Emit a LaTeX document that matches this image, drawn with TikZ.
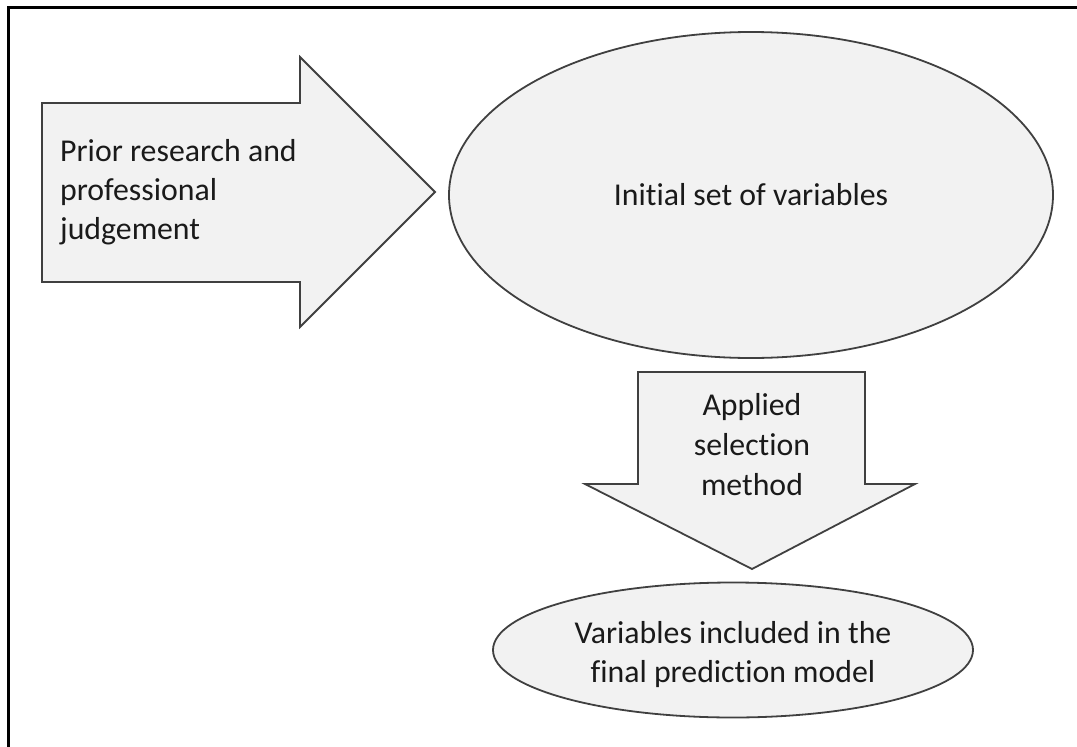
\documentclass[tikz,border=0pt]{standalone}
\usepackage{fontspec}
\setmainfont{Carlito}[RawFeature={-liga}]
\usetikzlibrary{shapes.geometric,positioning}
\definecolor{shapefill}{HTML}{F2F2F2}
\definecolor{shapeline}{HTML}{404040}
\definecolor{textgray}{HTML}{1A1A1A}

\begin{document}
\begin{tikzpicture}[x=1pt, y=-1pt,
    blockshape/.style={draw=shapeline, fill=shapefill, line width=1.8pt, line join=miter},
    boxtext/.style={text=textgray, font=\fontsize{31.8}{39}\selectfont, inner sep=0pt}]
        \useasboundingbox (0,0) rectangle (1077,747);
        \draw[line width=3pt] (8,747) -- (8,7) -- (1077,7);

        % block arrows
        \draw[blockshape] (42,103) -- (300,103) -- (300,57) -- (435,192) -- (300,327) -- (300,282) -- (42,282) -- cycle;
        \draw[blockshape] (638,372) -- (865,372) -- (865,484) -- (915,484) -- (752,569) -- (585,484) -- (638,484) -- cycle;

        \node[blockshape, ellipse, minimum width=604pt, minimum height=326pt] (init) at (751,195) {};
        \node[blockshape, ellipse, minimum width=480pt, minimum height=135pt] (final) at (733,650) {};

        \node[boxtext, align=left, anchor=west] (prior) at (60,192) {Prior research and\\professional\\judgement};
        \node[boxtext] (initlbl) at (init) {Initial set of variables};
        \node[boxtext, align=center, font=\fontsize{31.8}{40}\selectfont] (method) at (752,445) {Applied\\selection\\method};
        \node[boxtext, align=center] (finallbl) at (733,655) {Variables included in the\\final prediction model};
    \end{tikzpicture}
\end{document}
